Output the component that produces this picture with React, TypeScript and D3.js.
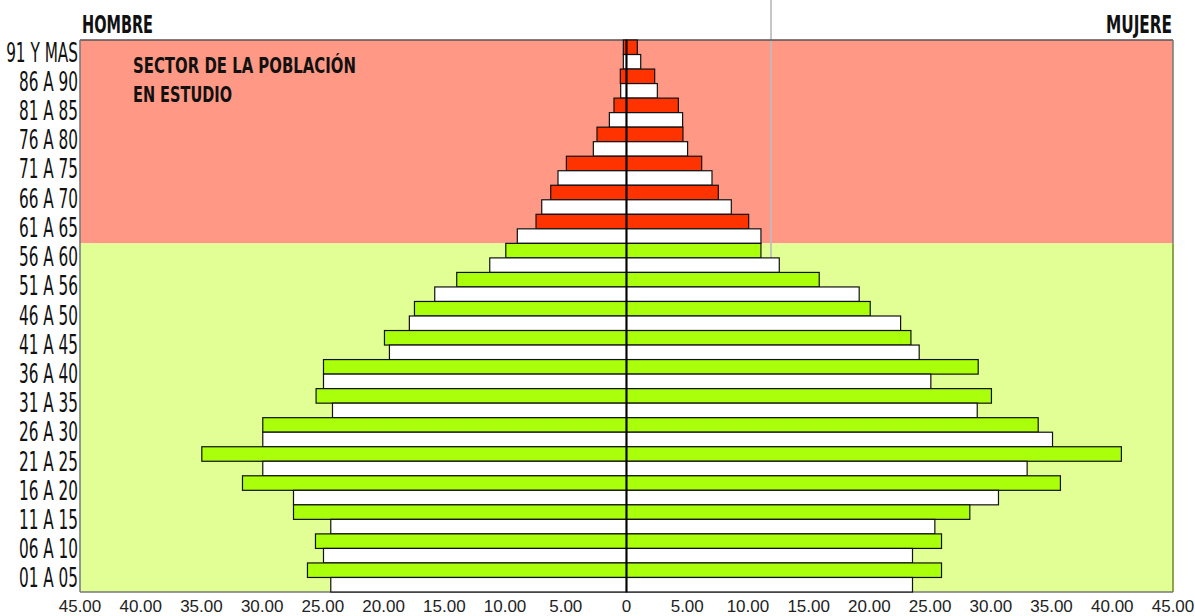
import React from "react";
import * as d3 from "d3";

// age groups, top to bottom
const ages = [
  "91 Y MAS", "86 A 90", "81 A 85", "76 A 80", "71 A 75", "66 A 70", "61 A 65",
  "56 A 60", "51 A 56", "46 A 50", "41 A 45", "36 A 40", "31 A 35", "26 A 30",
  "21 A 25", "16 A 20", "11 A 15", "06 A 10", "01 A 05",
];
const olderGroups = ["91 Y MAS", "86 A 90", "81 A 85", "76 A 80", "71 A 75", "66 A 70", "61 A 65"];

// study population (coloured bars)
const hombreEstudio = [0.26, 0.51, 1.03, 2.43, 4.95, 6.24, 7.45, 9.94, 13.98, 17.46, 19.93, 24.95, 25.56, 29.95, 34.97, 31.62, 27.42, 25.61, 26.27];
const mujerEstudio = [0.89, 2.32, 4.27, 4.65, 6.19, 7.56, 10.06, 11.07, 15.87, 20.07, 23.42, 28.96, 30.05, 33.9, 40.75, 35.73, 28.27, 25.94, 25.94];
// reference population (white bars)
const hombreRef = [0.26, 0.48, 1.41, 2.73, 5.64, 6.98, 8.99, 11.26, 15.79, 17.88, 19.52, 24.95, 24.21, 29.95, 29.95, 27.42, 24.35, 24.95, 24.35];
const mujerRef = [1.17, 2.54, 4.62, 5.03, 7.04, 8.63, 11.07, 12.58, 19.16, 22.57, 24.1, 25.06, 28.88, 35.08, 32.99, 30.63, 25.39, 23.55, 23.55];

const ticks = [-45, -40, -35, -30, -25, -20, -15, -10, -5, 0, 5, 10, 15, 20, 25, 30, 35, 40, 45];
const refLine = 11.9;

const W = 1195;
const H = 616;
const left = 80;
const right = 1173;
const top = 40;
const bottom = 592;

const labelFont = "'Liberation Sans Narrow', 'DejaVu Sans Condensed', 'Liberation Sans', sans-serif";

export default function App() {
  const x = d3.scaleLinear().domain([-45, 45]).range([left, right]);
  const y = d3.scaleBand().domain(ages).range([top, bottom]).padding(0);
  const bw = y.bandwidth();
  const half = bw / 2;

  const redTop = y(olderGroups[0]);
  const redBottom = y(olderGroups[olderGroups.length - 1]) + bw;

  const bars = [];
  ages.forEach((a, i) => {
    const y0 = y(a);
    const green = !olderGroups.includes(a);
    const fill = green ? "#aaff0a" : "#ff3300";
    bars.push({ key: a + "hc", x0: x(-hombreEstudio[i]), x1: x(0), y: y0, fill });
    bars.push({ key: a + "mc", x0: x(0), x1: x(mujerEstudio[i]), y: y0, fill });
    bars.push({ key: a + "hw", x0: x(-hombreRef[i]), x1: x(0), y: y0 + half, fill: "#ffffff" });
    bars.push({ key: a + "mw", x0: x(0), x1: x(mujerRef[i]), y: y0 + half, fill: "#ffffff" });
  });

  // labels drift slightly upward toward the top, as in the original
  const labelY = d3.scaleLinear().domain([0, ages.length - 1]).range([top + half - 2, bottom - half + 1]);

  return (
    <svg width={W} height={H} style={{ position: "absolute", left: 0, top: 0, background: "#fff" }}>
      {/* background sectors */}
      <rect x={left} y={redTop} width={right - left} height={redBottom - redTop} fill="#ff9985" />
      <rect x={left} y={redBottom} width={right - left} height={bottom - redBottom} fill="#e2ff95" />

      {/* reference line */}
      <line x1={x(refLine)} x2={x(refLine)} y1={0} y2={bottom} stroke="#bdbdbd" strokeWidth={2} opacity={0.85} />

      {/* plot frame */}
      <line x1={left} x2={right} y1={top} y2={top} stroke="#555" strokeWidth={1.5} />
      <line x1={left} x2={right} y1={bottom} y2={bottom} stroke="#777" strokeWidth={1.5} />
      <line x1={left} x2={left} y1={top} y2={bottom} stroke="#777" strokeWidth={1.5} />
      <line x1={right} x2={right} y1={top} y2={redBottom} stroke="#777" strokeWidth={1.5} />
      <line x1={right} x2={right} y1={redBottom} y2={bottom} stroke="#6a8a20" strokeWidth={1.5} />

      {/* bars */}
      {bars.map((b) => (
        <rect
          key={b.key}
          x={b.x0}
          y={b.y}
          width={Math.max(0, b.x1 - b.x0)}
          height={half}
          fill={b.fill}
          stroke="#111"
          strokeWidth={1.2}
        />
      ))}

      {/* centre axis */}
      <line x1={x(0)} x2={x(0)} y1={top} y2={bottom} stroke="#000" strokeWidth={2} />

      {/* age labels */}
      {ages.map((a, i) => (
        <text
          key={a}
          transform={`translate(78, ${labelY(i) + 9}) scale(0.63, 1)`}
          textAnchor="end"
          fontFamily={labelFont}
          fontSize={27}
          fill="#111"
        >
          {a}
        </text>
      ))}

      {/* x tick labels */}
      {ticks.map((t) => (
        <text
          key={t}
          x={x(t)}
          y={612}
          textAnchor="middle"
          fontFamily="'Liberation Sans', Arial, sans-serif"
          fontSize={17}
          fill="#222"
        >
          {t === 0 ? "0" : Math.abs(t).toFixed(2)}
        </text>
      ))}

      {/* titles */}
      <text transform="translate(82, 33) scale(1, 1.5)" fontFamily={labelFont} fontWeight="bold" fontSize={17} textLength={71} lengthAdjust="spacingAndGlyphs" fill="#111">
        HOMBRE
      </text>
      <text transform="translate(1172, 33) scale(1, 1.5)" textAnchor="end" fontFamily={labelFont} fontWeight="bold" fontSize={17} textLength={66} lengthAdjust="spacingAndGlyphs" fill="#111">
        MUJERE
      </text>
      <text x={133} y={73} fontFamily={labelFont} fontWeight="bold" fontSize={22} textLength={223} lengthAdjust="spacingAndGlyphs" fill="#111">
        SECTOR DE LA POBLACIÓN
      </text>
      <text x={133} y={102} fontFamily={labelFont} fontWeight="bold" fontSize={22} textLength={99} lengthAdjust="spacingAndGlyphs" fill="#111">
        EN ESTUDIO
      </text>
    </svg>
  );
}
